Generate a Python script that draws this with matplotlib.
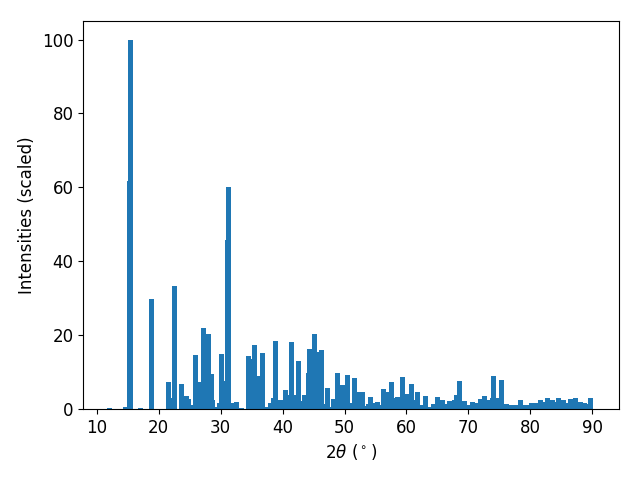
import matplotlib
matplotlib.use("Agg")
import matplotlib.pyplot as plt

two_theta = [12.06, 14.65, 15.29, 15.40, 17.07, 18.84, 21.59, 22.39, 22.56, 23.68,
             24.49, 24.81, 25.46, 25.94, 26.75, 27.24, 28.04, 28.53, 28.69, 29.34,
             29.82, 30.14, 30.95, 31.11, 31.27, 32.08, 32.56, 33.37, 34.50, 35.31,
             35.47, 36.28, 36.44, 36.76, 37.57, 38.05, 38.54, 38.86, 39.67, 40.15,
             40.47, 41.28, 41.44, 42.25, 42.57, 43.38, 43.54, 44.19, 44.35, 45.15,
             45.96, 46.28, 47.09, 47.25, 48.06, 48.22, 48.87, 49.67, 50.32, 50.48,
             51.29, 51.61, 52.42, 52.58, 52.90, 53.71, 53.87, 54.19, 55.00, 55.32,
             56.13, 56.29, 57.10, 57.58, 58.39, 58.55, 59.36, 60.17, 60.81, 61.62,
             61.78, 62.59, 63.07, 63.88, 64.36, 65.01, 65.82, 66.62, 66.95, 67.75,
             68.08, 68.56, 69.37, 69.85, 70.66, 71.47, 71.95, 72.60, 73.24, 73.89,
             74.05, 74.86, 75.34, 76.15, 76.63, 76.95, 77.68, 78.41, 79.21, 79.54,
             79.70, 80.18, 80.91, 81.64, 82.44, 82.77, 83.57, 84.38, 84.54, 85.35,
             86.16, 86.48, 87.28, 88.09, 88.74, 88.90, 89.54, 89.71]
intensity = [0.35, 0.5, 61.8, 100.0, 0.35, 29.8, 7.4, 3.1, 33.3, 6.8,
             3.5, 2.7, 1.1, 14.6, 7.4, 22.0, 20.3, 9.5, 2.4, 0.5,
             1.6, 14.9, 7.7, 45.8, 60.2, 1.6, 1.9, 0.3, 14.4, 13.5,
             17.3, 8.9, 0.8, 15.2, 0.5, 1.6, 3.0, 18.4, 2.4, 1.5,
             5.1, 3.8, 18.2, 3.8, 13.0, 2.2, 3.8, 9.8, 16.3, 20.3,
             15.4, 16.0, 1.4, 5.7, 0.5, 2.7, 9.8, 6.5, 4.6, 9.2,
             1.6, 8.4, 4.6, 3.3, 4.6, 0.8, 1.4, 3.3, 1.6, 1.9,
             1.1, 5.4, 4.6, 7.3, 3.0, 3.3, 8.7, 4.1, 6.8, 2.4,
             4.6, 1.1, 3.5, 0.5, 1.4, 3.3, 2.4, 1.4, 2.2, 2.4,
             3.8, 7.6, 2.2, 1.1, 1.9, 1.6, 2.7, 3.5, 2.4, 3.0,
             8.9, 3.0, 7.9, 1.4, 0.8, 1.1, 1.1, 2.4, 1.1, 0.5,
             1.1, 1.6, 1.6, 2.4, 1.9, 3.0, 2.4, 1.9, 3.0, 2.4,
             1.6, 2.7, 3.0, 1.9, 1.6, 1.4, 0.5, 3.0]

plt.rcParams['font.size'] = 12
fig, ax = plt.subplots(figsize=(6.4, 4.8), dpi=100)
ax.bar(two_theta, intensity, width=0.8, color='#1f77b4')
ax.set_xlim(7.79, 94.31)
ax.set_xlabel(r'$2\theta$ ($^\circ$)')
ax.set_ylabel('Intensities (scaled)')
fig.subplots_adjust(left=0.13, right=0.967, top=0.956, bottom=0.148)
fig.savefig('out.png', dpi=100)
